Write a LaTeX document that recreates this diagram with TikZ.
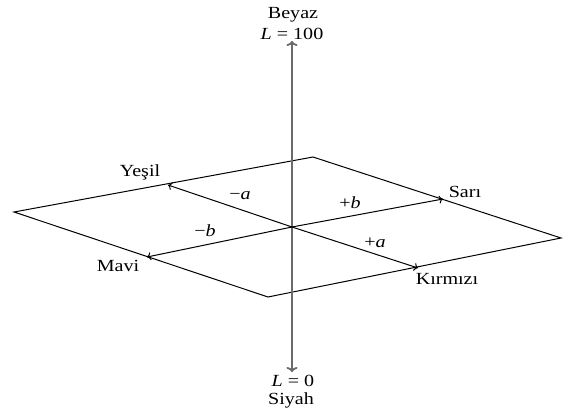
\documentclass[tikz,border=0pt]{standalone}
\usepackage{fontspec}
\usepackage{graphicx}
\setmainfont{Liberation Serif}
\usetikzlibrary{arrows.meta}
\newcommand{\hstr}[1]{\scalebox{1.18}[1]{#1}}
\begin{document}
\begin{tikzpicture}[x=1pt,y=-1pt,
  lbl/.style={font=\fontsize{17}{19}\selectfont, inner sep=0pt},
  edge/.style={line width=1pt},
  vec/.style={line width=1pt, -{To[length=4pt,width=8pt]}},
  axis/.style={line width=1.8pt, draw=black!58, {To[length=5pt,width=11pt]}-{To[length=5pt,width=11pt]}}]
\useasboundingbox (0,0) rectangle (563,412);
\coordinate (O) at (292,227);
\coordinate (PL) at (14,212);
\coordinate (PT) at (313,157);
\coordinate (PR) at (561,238);
\coordinate (PB) at (268,297);
\coordinate (Atop) at (292,41);
\coordinate (Abot) at (292,372);
\draw[edge] (PL) -- (PT) -- (PR) -- (PB) -- cycle;
\draw[axis] (Abot) -- (Atop);
\coordinate (tY) at (168,185);
\coordinate (tS) at (443,199);
\coordinate (tK) at (418,268);
\coordinate (tM) at (147,257);
\draw[vec] (O) -- (tY);
\draw[vec] (O) -- (tS);
\draw[vec] (O) -- (tK);
\draw[vec] (O) -- (tM);
\node[lbl] (beyaz) at (293,15) {\hstr{Beyaz}};
\node[lbl] (l100) at (292,34) {\hstr{\textit{L} = 100}};
\node[lbl] (l0) at (293,381) {\hstr{\textit{L} = 0}};
\node[lbl] (siyah) at (291,400) {\hstr{Siyah}};
\node[lbl] (yesil) at (140,172) {\hstr{Yeşil}};
\node[lbl] (mavi) at (118,266) {\hstr{Mavi}};
\node[lbl] (sari) at (465,192) {\hstr{Sarı}};
\node[lbl] (kirmizi) at (447,279) {\hstr{Kırmızı}};
\node[lbl] (ma) at (240,196) {\hstr{−\textit{a}}};
\node[lbl] (mb) at (205,231) {\hstr{−\textit{b}}};
\node[lbl] (pb) at (350,203) {\hstr{+\textit{b}}};
\node[lbl] (pa) at (375,243) {\hstr{+\textit{a}}};
\end{tikzpicture}
\end{document}
